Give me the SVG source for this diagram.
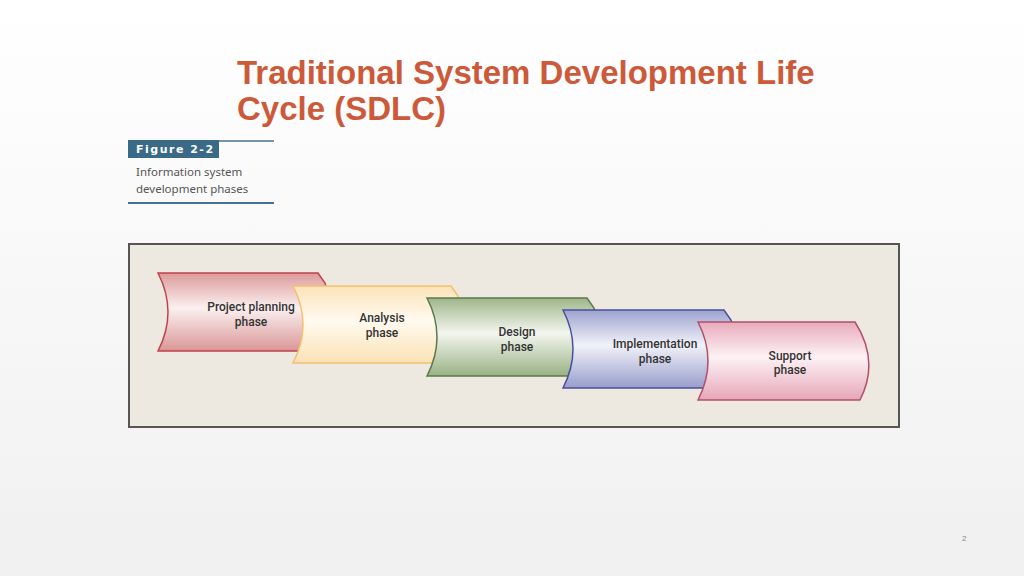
<svg xmlns="http://www.w3.org/2000/svg" width="1024" height="576" viewBox="0 0 1024 576">
<style>
.t{font-family:"Liberation Sans",Arial,sans-serif;font-weight:bold;font-size:33px;fill:#cc5a3a}
.l{font-family:"Roboto",sans-serif;font-weight:500;font-size:12px;fill:#333;text-anchor:middle}
.c{font-family:"Noto Sans",sans-serif;font-size:11.5px;fill:#555}
.s{stroke-width:1.5}
</style>
<defs>
<linearGradient id="bg" x1="0" y1="0" x2="0" y2="1"><stop offset="0" stop-color="#ffffff"/><stop offset="1" stop-color="#f0f0f0"/></linearGradient>
<linearGradient id="g1" x1="0" y1="0" x2="0" y2="1"><stop offset="0" stop-color="#dc9a9a"/><stop offset="0.45" stop-color="#fbf0f0"/><stop offset="1" stop-color="#d99696"/></linearGradient>
<linearGradient id="g2" x1="0" y1="0" x2="0" y2="1"><stop offset="0" stop-color="#fce3b8"/><stop offset="0.45" stop-color="#fffaf0"/><stop offset="1" stop-color="#fbe2b4"/></linearGradient>
<linearGradient id="g3" x1="0" y1="0" x2="0" y2="1"><stop offset="0" stop-color="#9fb58a"/><stop offset="0.45" stop-color="#f3f6ef"/><stop offset="1" stop-color="#9ab185"/></linearGradient>
<linearGradient id="g4" x1="0" y1="0" x2="0" y2="1"><stop offset="0" stop-color="#9da2cf"/><stop offset="0.45" stop-color="#f1f2f9"/><stop offset="1" stop-color="#989dcc"/></linearGradient>
<linearGradient id="g5" x1="0" y1="0" x2="0" y2="1"><stop offset="0" stop-color="#e8aabb"/><stop offset="0.45" stop-color="#fdf2f5"/><stop offset="1" stop-color="#e6a6b8"/></linearGradient>
</defs>
<rect width="1024" height="576" fill="url(#bg)"/>
<text class="t" x="237" y="84">Traditional System Development Life</text>
<text class="t" x="237" y="120">Cycle (SDLC)</text>
<rect x="128" y="140" width="91" height="18" fill="#3a6a88"/>
<text x="136" y="153" font-family="DejaVu Sans,sans-serif" font-size="11" font-weight="bold" fill="#fff" letter-spacing="1.5">Figure 2-2</text>
<line x1="219" y1="141" x2="274" y2="141" stroke="#4a7090" stroke-width="1.5"/>
<line x1="128" y1="203" x2="274" y2="203" stroke="#4a7090" stroke-width="2"/>
<text class="c" x="136" y="176">Information system</text>
<text class="c" x="136" y="193">development phases</text>
<rect x="129" y="244" width="770" height="183" fill="#ede9e0" stroke="#555" stroke-width="2"/>
<g id="n1"><path class="s" d="M158,273 H318 L325,283 Q336,312 305,351 H158 Q178,312 158,273 Z" fill="url(#g1)" stroke="#c0404f"/>
<text class="l" x="251" y="311">Project planning</text><text class="l" x="251" y="326">phase</text></g>
<g id="n2"><path class="s" d="M293,286 H451 L458,296 Q469,325 440,363 H293 Q313,325 293,286 Z" fill="url(#g2)" stroke="#f4c070"/>
<text class="l" x="382" y="322">Analysis</text><text class="l" x="382" y="337">phase</text></g>
<g id="n3"><path class="s" d="M427,298 H587 L594,308 Q605,337 575,376 H427 Q447,337 427,298 Z" fill="url(#g3)" stroke="#5a7a48"/>
<text class="l" x="517" y="336">Design</text><text class="l" x="517" y="351">phase</text></g>
<g id="n4"><path class="s" d="M563,310 H724 L731,320 Q742,349 711,388 H563 Q583,349 563,310 Z" fill="url(#g4)" stroke="#4a5098"/>
<text class="l" x="655" y="348">Implementation</text><text class="l" x="655" y="363">phase</text></g>
<g id="n5"><path class="s" d="M698,322 H855 Q880,361 860,400 H698 Q718,361 698,322 Z" fill="url(#g5)" stroke="#b0506a"/>
<text class="l" x="790" y="360">Support</text><text class="l" x="790" y="374">phase</text></g>
<g id="connectors"/>
<text x="962" y="541" font-family="Liberation Sans,sans-serif" font-size="8" fill="#888">2</text>
</svg>
